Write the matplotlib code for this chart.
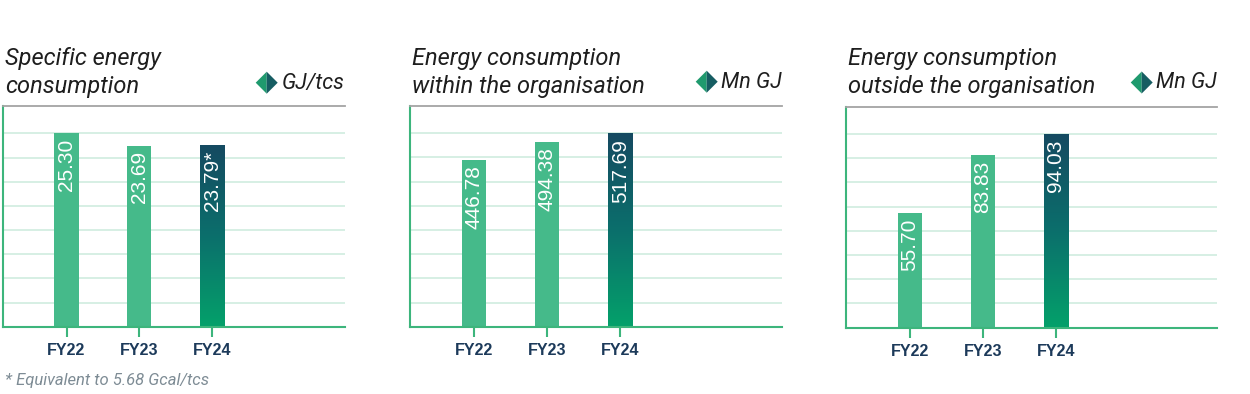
import numpy as np
import matplotlib
matplotlib.use("Agg")
import matplotlib.pyplot as plt
from matplotlib.colors import LinearSegmentedColormap
from matplotlib.patches import Polygon

years = ["FY22", "FY23", "FY24"]
specific = [25.30, 23.69, 23.79]
within = [446.78, 494.38, 517.69]
outside = [55.70, 83.83, 94.03]
labels_specific = ["25.30", "23.69", "23.79*"]
labels_within = ["446.78", "494.38", "517.69"]
labels_outside = ["55.70", "83.83", "94.03"]
titles = ["Specific energy\nconsumption",
          "Energy consumption\nwithin the organisation",
          "Energy consumption\noutside the organisation"]
units = ["GJ/tcs", "Mn GJ", "Mn GJ"]
footnote = "* Equivalent to 5.68 Gcal/tcs"

W, H = 1250, 394
GREEN = "#3db57c"
BAR = "#45ba8a"
GRID = "#d3eee2"
NAVY = "#1c3a5a"
grad = LinearSegmentedColormap.from_list("g", ["#04a16a", "#0b6f6c", "#154a61"])

fig = plt.figure(figsize=(12.5, 3.94), dpi=100)


def px(x, y):
    return (x / W, 1 - y / H)


# panel boxes in pixels: left, right, top, bottom, first bar centre, bar spacing
panels = [
    (3, 345, 106.3, 326.7, 66.5, 72.75),
    (410, 781.7, 106, 326.7, 474, 73.15),
    (846, 1216.7, 106.7, 327.7, 910, 72.85),
]
diamonds = [(266.7, 82.7), (706.7, 81.7), (1141.7, 82.5)]
series = [specific, within, outside]
labels = [labels_specific, labels_within, labels_outside]

for i, (l, r, t, b, c0, sp) in enumerate(panels):
    ax = fig.add_axes([l / W, 1 - b / H, (r - l) / W, (b - t) / H])
    vals = series[i]
    vmax = max(vals)
    x = np.arange(len(years))
    bw = 24.2 / sp
    for k in range(1, 9):
        ax.axhline(vmax * k / 8, color=GRID, lw=1.3, zorder=0)
    ax.bar(x[:2], vals[:2], width=bw, color=BAR, zorder=2)
    # gradient bar for FY24
    gimg = np.linspace(0, 1, 256).reshape(-1, 1)
    ax.imshow(gimg, cmap=grad, origin="lower", aspect="auto",
              extent=(x[2] - bw / 2, x[2] + bw / 2, 0, vals[2]), zorder=2)
    ax.set_xlim((l - c0) / sp, (r - c0) / sp)
    ax.set_ylim(0, vmax * 1.14)
    for xi, v, s in zip(x, vals, labels[i]):
        ax.annotate(s, (xi, v), xytext=(0, -4), textcoords="offset points",
                    rotation=90, ha="center", va="top", color="white",
                    fontsize=15, family="Liberation Sans", zorder=3)
    ax.set_xticks(x)
    ax.set_xticklabels(years, fontsize=11.5, fontweight="bold", color=NAVY,
                       family="Liberation Sans")
    ax.set_yticks([])
    ax.tick_params(axis="x", length=7, width=1.5, color=GREEN, pad=5)
    ax.spines["right"].set_visible(False)
    ax.spines["left"].set_color(GREEN)
    ax.spines["bottom"].set_color(GREEN)
    ax.spines["left"].set_linewidth(1.5)
    ax.spines["bottom"].set_linewidth(1.5)
    ax.spines["top"].set_color("#a4a4a4")
    ax.spines["top"].set_linewidth(1.3)
    ax.patch.set_alpha(0)

    # title, two lines
    for j, line in enumerate(titles[i].split("\n")):
        fig.text(*px(l + 2, 65 + 28 * j), line, fontsize=17, style="italic",
                 family="Roboto", color="#1e1e1e", va="baseline")

    # unit legend with two-tone diamond
    dx, dy = diamonds[i]
    fig.patches.append(Polygon([px(dx, dy - 11), px(dx - 11, dy), px(dx, dy + 11)],
                               closed=True, transform=fig.transFigure,
                               facecolor="#1f9a6e", edgecolor="none"))
    fig.patches.append(Polygon([px(dx, dy - 11), px(dx + 11, dy), px(dx, dy + 11)],
                               closed=True, transform=fig.transFigure,
                               facecolor="#165d62", edgecolor="none"))
    fig.text(*px(r, dy + 6), units[i], fontsize=15.5, style="italic",
             family="Roboto", color="#1e1e1e", ha="right", va="baseline")

fig.text(*px(5, 385), footnote, fontsize=12, style="italic", family="Roboto",
         color="#7e8c95", va="baseline")

fig.savefig("out.png", dpi=100, facecolor="white")
